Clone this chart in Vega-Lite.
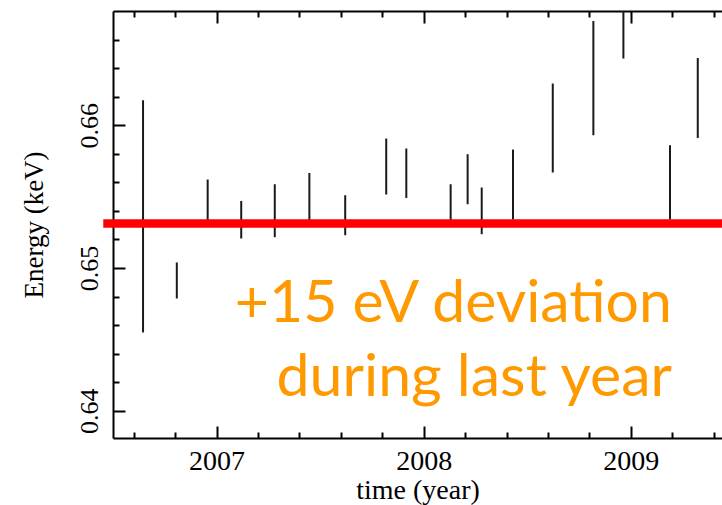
{
  "$schema": "https://vega.github.io/schema/vega-lite/v6.json",
  "width": 609,
  "height": 427,
  "autosize": {"type": "none"},
  "padding": {"left": 113, "top": 11, "right": 0, "bottom": 67},
  "background": "white",
  "config": {
    "view": {"stroke": null},
    "axis": {
      "grid": false,
      "domainColor": "#000000",
      "domainWidth": 2,
      "tickColor": "#000000",
      "tickWidth": 2,
      "labelFont": "Liberation Serif",
      "titleFont": "Liberation Serif",
      "labelFontSize": 26,
      "titleFontSize": 27,
      "labelColor": "#000000",
      "titleColor": "#000000",
      "titleFontWeight": "normal"
    }
  },
  "resolve": {"axis": {"x": "independent", "y": "independent"}},
  "layer": [
    {
      "data": {
        "values": [
          {"t": 2006.645, "lo": 0.64549, "hi": 0.66175},
          {"t": 2006.808, "lo": 0.64787, "hi": 0.65039},
          {"t": 2006.957, "lo": 0.65310, "hi": 0.65620},
          {"t": 2007.119, "lo": 0.65207, "hi": 0.65470},
          {"t": 2007.281, "lo": 0.65216, "hi": 0.65587},
          {"t": 2007.448, "lo": 0.65330, "hi": 0.65666},
          {"t": 2007.621, "lo": 0.65230, "hi": 0.65510},
          {"t": 2007.819, "lo": 0.65515, "hi": 0.65907},
          {"t": 2007.916, "lo": 0.65491, "hi": 0.65837},
          {"t": 2008.130, "lo": 0.65330, "hi": 0.65587},
          {"t": 2008.212, "lo": 0.65447, "hi": 0.65797},
          {"t": 2008.280, "lo": 0.65237, "hi": 0.65564},
          {"t": 2008.431, "lo": 0.65340, "hi": 0.65830},
          {"t": 2008.623, "lo": 0.65669, "hi": 0.66292},
          {"t": 2008.819, "lo": 0.65930, "hi": 0.66730},
          {"t": 2008.964, "lo": 0.66467, "hi": 0.67050},
          {"t": 2009.189, "lo": 0.65340, "hi": 0.65860},
          {"t": 2009.323, "lo": 0.65911, "hi": 0.66471}
        ]
      },
      "mark": {"type": "rule", "strokeWidth": 2, "color": "#1a1a1a", "clip": true},
      "encoding": {
        "x": {
          "field": "t",
          "type": "quantitative",
          "scale": {"domain": [2006.5, 2009.44], "nice": false, "zero": false},
          "axis": {
            "orient": "bottom",
            "values": [2007, 2008, 2009],
            "format": "d",
            "tickSize": -12,
            "labelPadding": 21,
            "labelFontSize": 28,
            "labelFlush": false,
            "title": "time (year)",
            "titleFontSize": 28,
            "titlePadding": 1
          }
        },
        "y": {
          "field": "lo",
          "type": "quantitative",
          "scale": {"domain": [0.6381, 0.668], "nice": false, "zero": false},
          "axis": {
            "orient": "left",
            "values": [0.64, 0.65, 0.66],
            "format": ".2f",
            "tickSize": -12,
            "labelAngle": 270,
            "labelAlign": "center",
            "labelBaseline": "alphabetic",
            "labelPadding": 28,
            "labelFlush": false,
            "title": "Energy (keV)",
            "titlePadding": 28
          }
        },
        "y2": {"field": "hi"}
      }
    },
    {
      "data": {"values": [{"level": 0.65312, "from": 2006.453, "to": 2009.44}]},
      "mark": {"type": "rule", "strokeWidth": 8.5, "color": "#ff0000", "clip": false},
      "encoding": {
        "x": {
          "field": "from",
          "type": "quantitative",
          "axis": {
            "orient": "bottom",
            "values": [2006.6, 2006.8, 2007.2, 2007.4, 2007.6, 2007.8, 2008.2, 2008.4, 2008.6, 2008.8, 2009.2, 2009.4],
            "tickSize": -6,
            "labels": false,
            "domain": false,
            "title": null
          }
        },
        "x2": {"field": "to"},
        "y": {
          "field": "level",
          "type": "quantitative",
          "axis": {
            "orient": "left",
            "values": [0.642, 0.644, 0.646, 0.648, 0.652, 0.654, 0.656, 0.658, 0.662, 0.664, 0.666],
            "tickSize": -6,
            "labels": false,
            "domain": false,
            "title": null
          }
        }
      }
    },
    {
      "data": {"values": [{"label": "+15 eV deviation", "t": 2009.1985, "e": 0.64621}]},
      "mark": {"type": "text", "align": "right", "baseline": "alphabetic", "font": "Lato", "fontSize": 59, "color": "#ff9900"},
      "encoding": {
        "x": {
          "field": "t",
          "type": "quantitative",
          "axis": {
            "orient": "top",
            "values": [2007, 2008, 2009],
            "tickSize": -12,
            "labels": false,
            "domain": true,
            "title": null
          }
        },
        "y": {"field": "e", "type": "quantitative", "axis": null},
        "text": {"field": "label"}
      }
    },
    {
      "data": {"values": [{"label": "during last year", "t": 2009.1985, "e": 0.64103}]},
      "mark": {"type": "text", "align": "right", "baseline": "alphabetic", "font": "Lato", "fontSize": 59, "color": "#ff9900"},
      "encoding": {
        "x": {
          "field": "t",
          "type": "quantitative",
          "axis": {
            "orient": "top",
            "values": [2006.6, 2006.8, 2007.2, 2007.4, 2007.6, 2007.8, 2008.2, 2008.4, 2008.6, 2008.8, 2009.2, 2009.4],
            "tickSize": -6,
            "labels": false,
            "domain": false,
            "title": null
          }
        },
        "y": {"field": "e", "type": "quantitative", "axis": null},
        "text": {"field": "label"}
      }
    }
  ]
}
